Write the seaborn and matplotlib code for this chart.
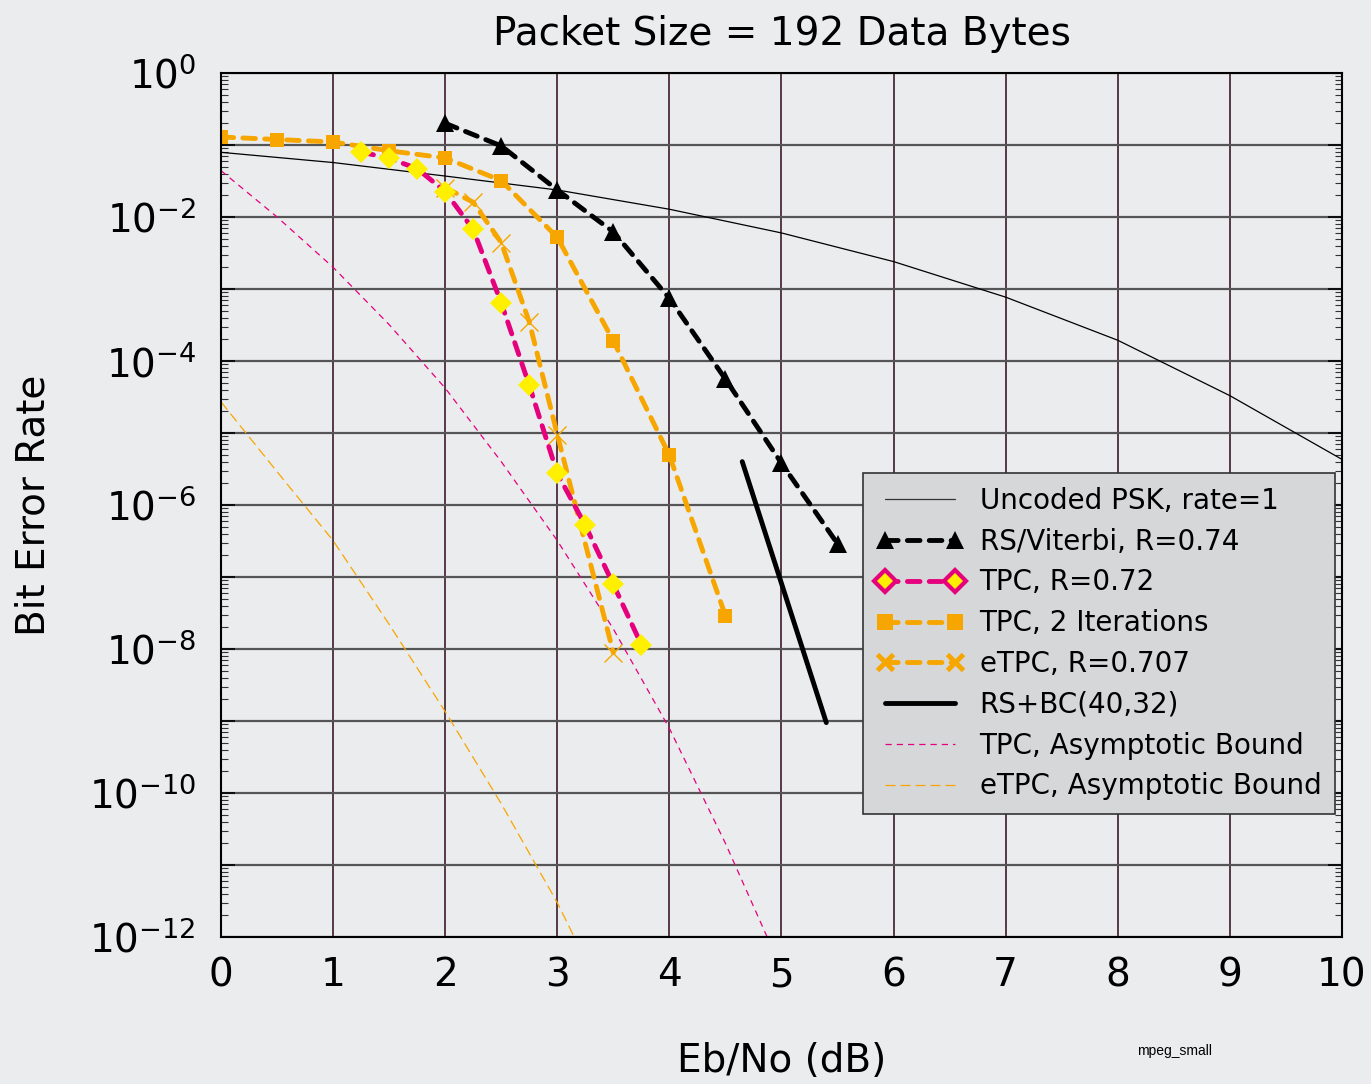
import numpy as np
import pandas as pd
import matplotlib
matplotlib.use('Agg')
import matplotlib.pyplot as plt
from matplotlib.lines import Line2D
from matplotlib.ticker import FixedLocator, LogLocator, NullFormatter
import seaborn as sns

# Uncoded PSK, rate=1
psk_ebno = [0, 1, 2, 3, 4, 5, 6, 7, 8, 9, 10]
psk_ber = [7.9e-2, 5.7e-2, 3.7e-2, 2.37e-2, 1.28e-2, 6.0e-3, 2.4e-3, 7.7e-4, 1.94e-4, 3.3e-5, 4.3e-6]

# RS/Viterbi, R=0.74
rsv_ebno = [2, 2.5, 3, 3.5, 4, 4.5, 5, 5.5]
rsv_ber = [2.0e-1, 9.7e-2, 2.37e-2, 6.2e-3, 7.4e-4, 5.6e-5, 3.8e-6, 2.9e-7]

# TPC, R=0.72
tpc_ebno = [1.25, 1.5, 1.75, 2, 2.25, 2.5, 2.75, 3, 3.25, 3.5, 3.75]
tpc_ber = [8.0e-2, 6.5e-2, 4.7e-2, 2.25e-2, 6.7e-3, 6.4e-4, 4.6e-5, 2.75e-6, 5.2e-7, 7.9e-8, 1.15e-8]

# TPC, 2 Iterations
tpc2_ebno = [0, 0.5, 1, 1.5, 2, 2.5, 3, 3.5, 4, 4.5]
tpc2_ber = [1.29e-1, 1.19e-1, 1.10e-1, 8.3e-2, 6.6e-2, 3.2e-2, 5.2e-3, 1.9e-4, 4.9e-6, 2.9e-8]

# eTPC, R=0.707
etpc_ebno = [2, 2.25, 2.5, 2.75, 3, 3.5]
etpc_ber = [2.56e-2, 1.6e-2, 4.4e-3, 3.5e-4, 9.5e-6, 8.9e-9]

# RS+BC(40,32)
rsbc_ebno = [4.65, 5.4]
rsbc_ber = [4.0e-6, 9.5e-10]

# asymptotic bounds
tpcb_ebno = [0, 0.5, 1, 1.5, 2, 2.5, 3, 3.5, 4, 4.5, 4.9]
tpcb_ber = [4.4e-2, 1.0e-2, 2.0e-3, 3.2e-4, 4.2e-5, 4.0e-6, 3.2e-7, 1.9e-8, 7.9e-10, 2.0e-11, 8e-13]

etpcb_ebno = [0, 0.5, 1, 1.5, 2, 2.5, 3, 3.2]
etpcb_ber = [2.7e-5, 2.9e-6, 3.2e-7, 2.2e-8, 1.35e-9, 7.1e-11, 3.0e-12, 7e-13]

BG = '#ebecee'
MAGENTA = '#e5007d'
ORANGE = '#f7a600'
YELLOW = '#fff000'

sns.set_theme(style='white')
plt.rcParams['font.family'] = ['DejaVu Sans']
plt.rcParams['mathtext.fontset'] = 'dejavusans'
plt.rcParams['text.color'] = 'black'
plt.rcParams['axes.labelcolor'] = 'black'

fig = plt.figure(figsize=(13.71, 10.84), dpi=100, facecolor=BG)
ax = fig.add_axes([0.1612, 0.1356, 0.8176, 0.7971])
ax.set_facecolor(BG)

thick = 3.5
dash = dict(linestyle=(0, (2.6, 1.9)), dash_capstyle='round')

sns.lineplot(x=psk_ebno, y=psk_ber, ax=ax, color='black', linewidth=0.9)
sns.lineplot(x=tpcb_ebno, y=tpcb_ber, ax=ax, color=MAGENTA, linewidth=0.9,
             linestyle=(0, (5, 4)))
sns.lineplot(x=etpcb_ebno, y=etpcb_ber, ax=ax, color=ORANGE, linewidth=0.9,
             linestyle=(0, (8, 4)))
sns.lineplot(x=tpc2_ebno, y=tpc2_ber, ax=ax, color=ORANGE, linewidth=thick,
             marker='s', markersize=10, markeredgewidth=0, **dash)
sns.lineplot(x=etpc_ebno, y=etpc_ber, ax=ax, color=ORANGE, linewidth=thick,
             marker='x', markersize=13, markeredgewidth=1.0,
             markeredgecolor=ORANGE, **dash)
sns.lineplot(x=tpc_ebno, y=tpc_ber, ax=ax, color=MAGENTA, linewidth=thick,
             marker='D', markersize=11, markerfacecolor=YELLOW,
             markeredgewidth=0, **dash)
sns.lineplot(x=rsv_ebno, y=rsv_ber, ax=ax, color='black', linewidth=thick,
             marker='^', markersize=13, markeredgewidth=0, **dash)
sns.lineplot(x=rsbc_ebno, y=rsbc_ber, ax=ax, color='black', linewidth=thick)

ax.set_yscale('log')
ax.set_xlim(0, 10)
ax.set_ylim(1e-12, 1)

ax.set_xticks(range(0, 11))
exps = list(range(-12, 1))
ax.yaxis.set_major_locator(FixedLocator([10.0 ** k for k in exps]))
ax.set_yticklabels(['$10^{%d}$' % k if k % 2 == 0 else '' for k in exps])
ax.yaxis.set_minor_locator(LogLocator(base=10, subs=np.arange(2, 10), numticks=50))
ax.yaxis.set_minor_formatter(NullFormatter())

ax.tick_params(axis='x', which='major', direction='in', length=8, width=1.2,
               labelsize=28, pad=14, colors='black')
ax.tick_params(axis='y', which='major', direction='in', length=10, width=1.2,
               labelsize=28, pad=18, left=True, right=True, colors='black')
ax.tick_params(axis='y', which='minor', direction='in', length=5, width=0.8,
               left=True, right=True, colors='#333333')

ax.xaxis.grid(True, color='#3d1a2a', linewidth=1.2)
ax.yaxis.grid(True, which='major', color='#555555', linewidth=1.6)
ax.set_axisbelow(True)
for sp in ax.spines.values():
    sp.set_color('black')
    sp.set_linewidth(1.5)

ax.set_title('Packet Size = 192 Data Bytes', fontsize=28, pad=20, color='black')
ax.set_xlabel('Eb/No (dB)', fontsize=28, labelpad=34)
ax.set_ylabel('Bit Error Rate', fontsize=28, labelpad=26)

handles = [
    Line2D([], [], color='#333333', linewidth=0.9),
    Line2D([], [], color='black', linewidth=thick, marker='^', markersize=13,
           markeredgewidth=0, **dash),
    Line2D([], [], color=MAGENTA, linewidth=thick, marker='D', markersize=11,
           markerfacecolor=YELLOW, markeredgecolor=MAGENTA, markeredgewidth=3,
           **dash),
    Line2D([], [], color=ORANGE, linewidth=thick, marker='s', markersize=12,
           markeredgewidth=0, **dash),
    Line2D([], [], color=ORANGE, linewidth=thick, marker='x', markersize=11,
           markeredgewidth=3.5, **dash),
    Line2D([], [], color='black', linewidth=thick),
    Line2D([], [], color=MAGENTA, linewidth=0.9, linestyle=(0, (5, 4))),
    Line2D([], [], color=ORANGE, linewidth=0.9, linestyle=(0, (8, 4))),
]
labels = ['Uncoded PSK, rate=1', 'RS/Viterbi, R=0.74', 'TPC, R=0.72',
          'TPC, 2 Iterations', 'eTPC, R=0.707', 'RS+BC(40,32)',
          'TPC, Asymptotic Bound', 'eTPC, Asymptotic Bound']
leg = ax.legend(handles, labels, loc='upper right', bbox_to_anchor=(0.994, 0.537),
                borderaxespad=0, fontsize=20, numpoints=2, handlelength=3.1,
                handletextpad=0.6, labelspacing=0.46, borderpad=0.5,
                fancybox=False, framealpha=1,
                facecolor='#d6d7d9', edgecolor='#333333')
leg.get_frame().set_linewidth(1.2)

fig.text(0.857, 0.030, 'mpeg_small', fontsize=10, family='Liberation Sans',
         ha='center', va='center')

fig.savefig('out.png', dpi=100, facecolor=BG)
